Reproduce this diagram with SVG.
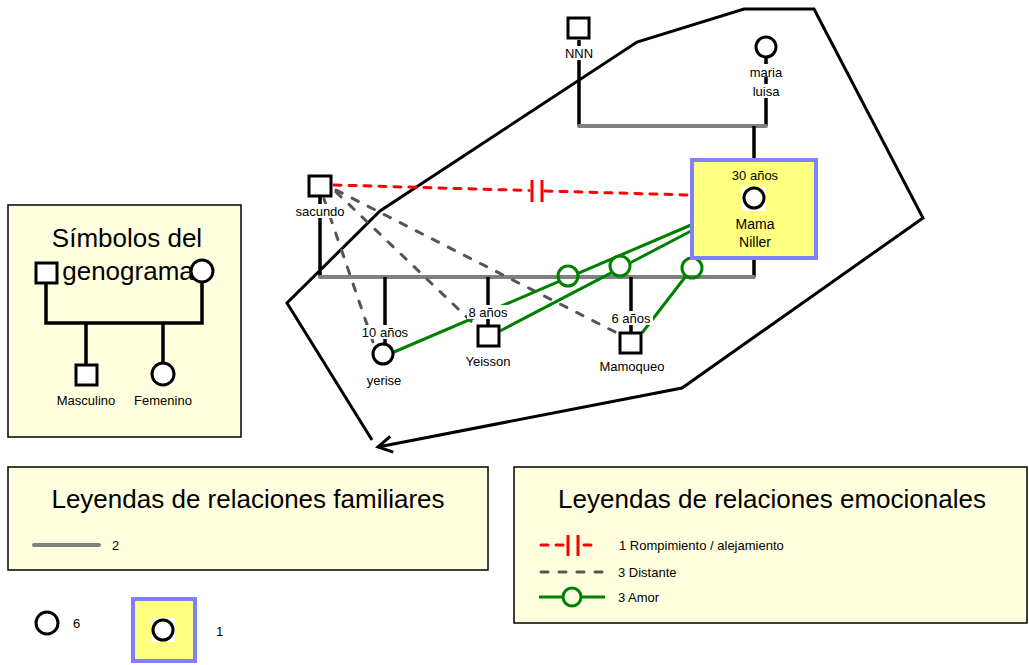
<svg xmlns="http://www.w3.org/2000/svg" width="1029" height="665" viewBox="0 0 1029 665">
<defs>
<style>
.t{font-family:"Liberation Sans",Arial,sans-serif;fill:#000}
.s13{font-size:13px}
.s14{font-size:14px}
.big{font-size:26px}
.sym{fill:#fff;stroke:#000;stroke-width:3}
.kin{stroke:#000;stroke-width:3.5;fill:none}
.marr{stroke:#808080;stroke-width:4;fill:none;stroke-linecap:round}
.brk{stroke:#ff0000;stroke-width:3;stroke-dasharray:7 8;fill:none;stroke-linecap:round}
.bar{stroke:#ff0000;stroke-width:3;fill:none}
.dist{stroke:#555;stroke-width:3;stroke-dasharray:7 11;fill:none;stroke-linecap:round}
.love{stroke:#008000;stroke-width:3;fill:none}
.lovec{stroke:#008000;stroke-width:3;fill:none}
.panel{fill:#ffffe0;stroke:#000;stroke-width:1.5}
.focus{fill:#ffff80;stroke:#8080ff;stroke-width:4}
.wbg{fill:#fff}
.poly{stroke:#000;stroke-width:3;fill:none;stroke-linejoin:miter}
</style>
<marker id="openArrow" viewBox="-16 -10 20 20" refX="0" refY="0" markerWidth="20" markerHeight="20" markerUnits="userSpaceOnUse" orient="auto" overflow="visible">
<path d="M -14,-8 L 0,0 L -14,8" fill="none" stroke="#000" stroke-width="3"/>
</marker>
</defs>

<!-- legend panels -->
<g id="panel-simbolos">
<rect class="panel" x="8" y="205" width="233" height="232"/>
<text class="t big" x="127" y="247" text-anchor="middle">Símbolos del</text>
<path class="kin" d="M46,283 V323 H202 V283 M86,323 V365 M163,323 V362"/>
<text class="t big" x="128" y="280" text-anchor="middle">genograma</text>
<rect class="sym" x="36" y="263" width="21" height="20"/>
<circle class="sym" cx="202" cy="271" r="11"/>
<rect class="sym" x="76" y="365" width="21" height="20"/>
<circle class="sym" cx="163" cy="374" r="11"/>
<text class="t s13" x="86" y="405" text-anchor="middle">Masculino</text>
<text class="t s13" x="163" y="405" text-anchor="middle">Femenino</text>
</g>

<g id="panel-familiares">
<rect class="panel" x="8" y="467" width="480" height="103"/>
<text class="t big" x="248" y="508" text-anchor="middle">Leyendas de relaciones familiares</text>
<line class="marr" x1="34" y1="545" x2="99" y2="545"/>
<text class="t s13" x="112" y="550">2</text>
</g>

<g id="legend-count-female">
<circle class="sym" cx="47" cy="623" r="11"/>
<text class="t s13" x="73" y="628">6</text>
</g>

<g id="legend-count-focus">
<rect class="focus" x="133" y="599" width="62" height="62"/>
<rect class="wbg" x="152" y="618" width="23" height="24"/>
<circle class="sym" cx="163" cy="630" r="10"/>
<text class="t s13" x="216" y="636">1</text>
</g>

<g id="panel-emocionales">
<rect class="panel" x="514" y="467" width="513" height="156"/>
<text class="t big" x="772" y="508" text-anchor="middle">Leyendas de relaciones emocionales</text>
<path class="brk" d="M541,545 H566 M584,545 H598"/>
<line class="bar" x1="568" y1="535" x2="568" y2="556"/>
<line class="bar" x1="578" y1="535" x2="578" y2="556"/>
<text class="t s13" x="619" y="550">1 Rompimiento / alejamiento</text>
<line class="dist" x1="541" y1="572" x2="604" y2="572"/>
<text class="t s13" x="618" y="577">3 Distante</text>
<path class="love" d="M539,597 H563 M581,597 H605"/>
<circle class="lovec" cx="572" cy="597" r="9"/>
<text class="t s13" x="618" y="602">3 Amor</text>
</g>

<!-- connectors -->
<g id="connectors">
<path class="poly" d="M372,440 L287,303 L380,211 L637,42 L744,9 L814,9 L923,218 L682,388 L378,447" marker-end="url(#openArrow)"/>
<!-- kinship -->
<line class="kin" x1="579" y1="40" x2="579" y2="126"/>
<line class="kin" x1="766" y1="58" x2="766" y2="126"/>
<line class="marr" x1="579" y1="126" x2="766" y2="126"/>
<line class="kin" x1="754" y1="126" x2="754" y2="160"/>
<line class="kin" x1="320" y1="197" x2="320" y2="277"/>
<line class="kin" x1="754" y1="258" x2="754" y2="277"/>
<line class="marr" x1="320" y1="277" x2="754" y2="277"/>
<line class="kin" x1="385" y1="277" x2="385" y2="343"/>
<line class="kin" x1="488" y1="277" x2="488" y2="325"/>
<line class="kin" x1="631" y1="277" x2="631" y2="332"/>
<!-- emotional: break -->
<path class="brk" d="M334,185 L529,190.5 M545,191 L690,195"/>
<line class="bar" x1="532" y1="180" x2="532" y2="202"/>
<line class="bar" x1="542" y1="180" x2="542" y2="202"/>
<!-- emotional: distant -->
<line class="dist" x1="324" y1="199" x2="373" y2="342"/>
<line class="dist" x1="336" y1="192" x2="476" y2="326"/>
<line class="dist" x1="336" y1="190" x2="619" y2="334"/>
<!-- emotional: love -->
<path class="love" d="M691,225 L578,273.3 M559.6,281.2 L394,352"/>
<path class="love" d="M691,231 L629.9,263 M612.1,272.3 L500,331"/>
<path class="love" d="M686,276 L642,333"/>
<circle class="lovec" cx="568" cy="276" r="10"/>
<circle class="lovec" cx="620" cy="266" r="10"/>
<circle class="lovec" cx="692" cy="268" r="10"/>
</g>

<!-- nodes -->
<g id="node-nnn">
<rect class="sym" x="568" y="18" width="21" height="20"/>
<rect class="wbg" x="562" y="46" width="34" height="14"/>
<text class="t s13" x="579" y="58" text-anchor="middle">NNN</text>
</g>

<g id="node-maria-luisa">
<circle class="sym" cx="766" cy="47" r="10"/>
<rect class="wbg" x="748" y="64" width="36" height="13"/>
<rect class="wbg" x="749" y="84" width="34" height="14"/>
<text class="t s13" x="766" y="77" text-anchor="middle">maria</text>
<text class="t s13" x="766" y="96" text-anchor="middle">luisa</text>
</g>

<g id="node-mama-niller">
<rect class="focus" x="692" y="160" width="124" height="98"/>
<text class="t s13" x="755" y="180" text-anchor="middle">30 años</text>
<rect class="wbg" x="742" y="187" width="24" height="24"/>
<circle class="sym" cx="754" cy="198" r="10"/>
<text class="t s14" x="755" y="229" text-anchor="middle">Mama</text>
<text class="t s14" x="755" y="247" text-anchor="middle">Niller</text>
</g>

<g id="node-sacundo">
<rect class="sym" x="309" y="176" width="22" height="20"/>
<rect class="wbg" x="294" y="204" width="52" height="14"/>
<text class="t s13" x="320" y="216" text-anchor="middle">sacundo</text>
</g>

<g id="node-yerise">
<rect class="wbg" x="360" y="325" width="50" height="14"/>
<text class="t s13" x="385" y="337" text-anchor="middle">10 años</text>
<circle class="sym" cx="383" cy="354" r="10"/>
<text class="t s13" x="384" y="385" text-anchor="middle">yerise</text>
</g>

<g id="node-yeisson">
<rect class="wbg" x="467" y="305" width="43" height="14"/>
<text class="t s13" x="488" y="317" text-anchor="middle">8 años</text>
<rect class="sym" x="478" y="326" width="21" height="20"/>
<text class="t s13" x="488" y="366" text-anchor="middle">Yeisson</text>
</g>

<g id="node-mamoqueo">
<rect class="wbg" x="610" y="311" width="43" height="14"/>
<text class="t s13" x="631" y="323" text-anchor="middle">6 años</text>
<rect class="sym" x="620" y="333" width="21" height="20"/>
<text class="t s13" x="632" y="371" text-anchor="middle">Mamoqueo</text>
</g>
</svg>
